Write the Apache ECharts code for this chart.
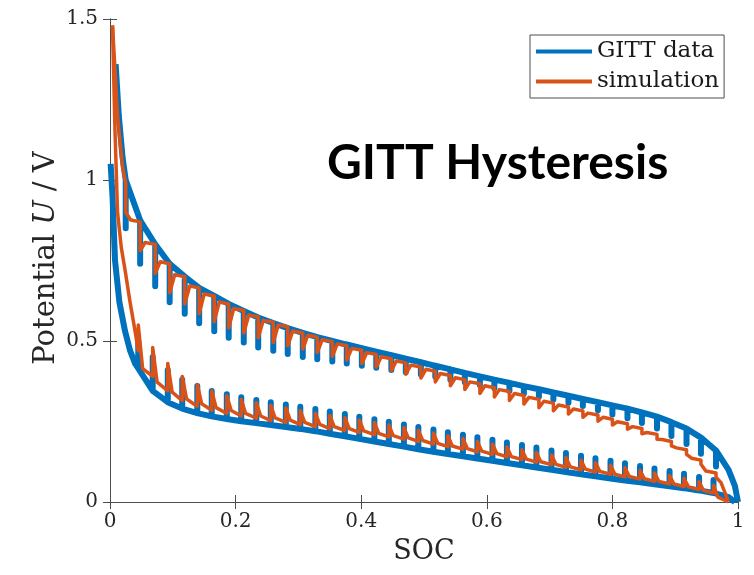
<!DOCTYPE html>
<html>
<head>
    <meta charset="utf-8">
    <title>GITT Hysteresis</title>
    <script src="https://cdn.jsdelivr.net/npm/echarts@6/dist/echarts.min.js"></script>
</head>
<body style="margin:0">
    <div id="main" style="width: 754px;height:575px;"></div>
    <script type="text/javascript">
        // pulse positions (SOC) of the two branches
        var socUp = [0.025, 0.048, 0.072, 0.095, 0.119, 0.142, 0.166, 0.189, 0.213, 0.236,
            0.26, 0.283, 0.307, 0.33, 0.354, 0.377, 0.401, 0.424, 0.448, 0.471,
            0.495, 0.518, 0.542, 0.565, 0.589, 0.612, 0.636, 0.659, 0.683, 0.706,
            0.73, 0.753, 0.777, 0.8, 0.824, 0.847, 0.871, 0.894, 0.918, 0.941, 0.965];
        var socDown = [0.045, 0.068, 0.092, 0.115, 0.139, 0.162, 0.186, 0.209, 0.233, 0.256,
            0.28, 0.303, 0.327, 0.35, 0.374, 0.397, 0.421, 0.444, 0.468, 0.491,
            0.515, 0.538, 0.562, 0.585, 0.609, 0.632, 0.656, 0.679, 0.703, 0.726,
            0.75, 0.773, 0.797, 0.82, 0.844, 0.867, 0.891, 0.914, 0.938, 0.961];

        // GITT data, upper branch: relaxed potential and pulse dip
        var gittUpHead = [[0.009, 1.36], [0.014, 1.2], [0.02, 1.07]];
        var gittUpTop = [1.0, 0.875, 0.8, 0.74, 0.7, 0.665, 0.64, 0.615, 0.593, 0.573,
            0.556, 0.54, 0.525, 0.512, 0.5, 0.489, 0.478, 0.467, 0.456, 0.445,
            0.434, 0.423, 0.412, 0.401, 0.39, 0.38, 0.37, 0.36, 0.35, 0.34,
            0.33, 0.32, 0.31, 0.3, 0.29, 0.278, 0.265, 0.248, 0.228, 0.2, 0.16];
        var gittUpLow = [0.85, 0.74, 0.67, 0.62, 0.585, 0.555, 0.53, 0.51, 0.495, 0.48,
            0.47, 0.46, 0.45, 0.443, 0.436, 0.43, 0.423, 0.417, 0.41, 0.403,
            0.396, 0.389, 0.38, 0.372, 0.363, 0.353, 0.345, 0.336, 0.327, 0.318,
            0.308, 0.298, 0.285, 0.272, 0.26, 0.245, 0.228, 0.205, 0.18, 0.15, 0.11];
        var gittUpTail = [[0.985, 0.1], [0.995, 0.05], [1.0, 0.0]];

        // GITT data, lower branch: relaxed potential and pulse peak
        var gittDownHead = [[0.001, 1.05], [0.004, 0.95], [0.008, 0.75], [0.015, 0.62],
            [0.024, 0.53], [0.032, 0.47], [0.04, 0.43]];
        var gittDownBase = [0.415, 0.345, 0.31, 0.29, 0.276, 0.266, 0.258, 0.251, 0.245, 0.239,
            0.233, 0.227, 0.22, 0.212, 0.204, 0.196, 0.188, 0.18, 0.172, 0.164,
            0.156, 0.149, 0.142, 0.135, 0.128, 0.121, 0.114, 0.107, 0.1, 0.093,
            0.086, 0.08, 0.073, 0.067, 0.061, 0.055, 0.049, 0.043, 0.036, 0.028];
        var gittDownPeak = [0.5, 0.45, 0.41, 0.38, 0.36, 0.345, 0.335, 0.325, 0.317, 0.31,
            0.303, 0.296, 0.289, 0.281, 0.273, 0.265, 0.257, 0.249, 0.241, 0.233,
            0.225, 0.217, 0.209, 0.201, 0.193, 0.185, 0.177, 0.169, 0.16, 0.152,
            0.144, 0.136, 0.128, 0.12, 0.112, 0.104, 0.096, 0.088, 0.078, 0.068];
        var gittDownTail = [[0.985, 0.015], [0.995, 0.0]];

        // simulation, upper branch: value before the pulse, after it, and the relaxed knee
        var simUpHead = [[0.004, 1.48], [0.012, 1.2], [0.02, 1.04]];
        var simUpTop = [0.99, 0.87, 0.8, 0.74, 0.7, 0.665, 0.64, 0.615, 0.595, 0.575,
            0.558, 0.544, 0.525, 0.512, 0.498, 0.485, 0.471, 0.458, 0.445, 0.432,
            0.419, 0.406, 0.393, 0.38, 0.367, 0.355, 0.343, 0.331, 0.319, 0.307,
            0.295, 0.283, 0.27, 0.257, 0.243, 0.228, 0.21, 0.188, 0.162, 0.13, 0.09];
        var simUpLow = [0.9, 0.78, 0.71, 0.65, 0.615, 0.585, 0.56, 0.54, 0.525, 0.51,
            0.495, 0.485, 0.475, 0.464, 0.452, 0.441, 0.43, 0.419, 0.408, 0.397,
            0.385, 0.373, 0.361, 0.349, 0.337, 0.326, 0.315, 0.304, 0.293, 0.283,
            0.273, 0.263, 0.251, 0.239, 0.226, 0.212, 0.195, 0.174, 0.148, 0.117, 0.077];
        var simUpKneeSoc = [0.033, 0.056, 0.08, 0.103, 0.127, 0.15, 0.174, 0.197, 0.221, 0.244,
            0.268, 0.291, 0.315, 0.338, 0.362, 0.385, 0.409, 0.432, 0.456, 0.479,
            0.503, 0.526, 0.55, 0.573, 0.597, 0.62, 0.644, 0.667, 0.691, 0.714,
            0.738, 0.761, 0.785, 0.808, 0.832, 0.855, 0.879, 0.902, 0.926, 0.949, 0.973];
        var simUpKnee = [0.876, 0.806, 0.746, 0.706, 0.671, 0.646, 0.621, 0.601, 0.581, 0.564,
            0.55, 0.531, 0.518, 0.504, 0.491, 0.477, 0.464, 0.451, 0.438, 0.425,
            0.412, 0.399, 0.386, 0.373, 0.361, 0.349, 0.337, 0.325, 0.313, 0.301,
            0.289, 0.276, 0.263, 0.249, 0.234, 0.216, 0.194, 0.168, 0.136, 0.096, 0.06];
        var simUpTail = [[0.984, 0.005]];

        // simulation, lower branch
        var simDownHead = [[0.004, 1.48], [0.008, 1.15], [0.012, 0.9], [0.018, 0.79],
            [0.024, 0.72], [0.032, 0.62], [0.04, 0.53]];
        var simDownBase = [0.47, 0.39, 0.345, 0.315, 0.297, 0.285, 0.275, 0.267, 0.26, 0.253,
            0.247, 0.24, 0.234, 0.228, 0.222, 0.216, 0.209, 0.202, 0.195, 0.188,
            0.18, 0.172, 0.164, 0.156, 0.148, 0.14, 0.132, 0.124, 0.116, 0.108,
            0.1, 0.093, 0.086, 0.078, 0.071, 0.064, 0.056, 0.048, 0.039, 0.028];
        var simDownPeak = [0.55, 0.48, 0.43, 0.39, 0.365, 0.345, 0.33, 0.318, 0.308, 0.3,
            0.292, 0.284, 0.276, 0.269, 0.262, 0.255, 0.247, 0.239, 0.231, 0.223,
            0.214, 0.206, 0.197, 0.188, 0.18, 0.171, 0.162, 0.154, 0.146, 0.138,
            0.13, 0.122, 0.114, 0.106, 0.098, 0.09, 0.082, 0.074, 0.064, 0.052];
        var simDownKneeSoc = [0.052, 0.075, 0.099, 0.122, 0.146, 0.169, 0.193, 0.216, 0.24, 0.263,
            0.287, 0.31, 0.334, 0.357, 0.381, 0.404, 0.428, 0.451, 0.475, 0.498,
            0.522, 0.545, 0.569, 0.592, 0.616, 0.639, 0.663, 0.686, 0.71, 0.733,
            0.757, 0.78, 0.804, 0.827, 0.851, 0.874, 0.898, 0.921, 0.945, 0.968];
        var simDownKnee = [0.414, 0.372, 0.341, 0.32, 0.305, 0.293, 0.284, 0.275, 0.267, 0.261,
            0.254, 0.247, 0.241, 0.234, 0.228, 0.221, 0.213, 0.206, 0.199, 0.191,
            0.182, 0.174, 0.166, 0.158, 0.15, 0.141, 0.133, 0.125, 0.117, 0.109,
            0.102, 0.095, 0.086, 0.079, 0.072, 0.064, 0.056, 0.047, 0.036, 0.015];
        var simDownTail = [[0.985, 0.0]];

        var blue = '#0072BD';
        var orange = '#D95319';
        var axisColor = '#4d4d4d';
        var textColor = '#262626';
        var serif = 'DejaVu Serif';

        // measured data: narrow vertical bars out of the relaxed curve
        function bars(head, soc, rest, pulse, tail) {
            var pts = head.slice();
            for (var i = 0; i < soc.length; i++) {
                pts.push([soc[i], rest[i]], [soc[i], pulse[i]], [soc[i], rest[i]]);
            }
            return pts.concat(tail);
        }
        // simulation: jump at the pulse, then relaxation through the knee
        function jumps(head, soc, a, b, kneeSoc, knee, tail) {
            var pts = head.slice();
            for (var i = 0; i < soc.length; i++) {
                pts.push([soc[i], a[i]], [soc[i], b[i]], [kneeSoc[i], knee[i]]);
            }
            return pts.concat(tail);
        }

        var myChart = echarts.init(document.getElementById('main'));

        function lineSeries(name, color, width, data) {
            return {
                name: name,
                type: 'line',
                color: color,
                showSymbol: false,
                symbol: 'none',
                lineStyle: {color: color, width: width, join: 'round'},
                data: data,
                animation: false
            };
        }

        var frameAxis = {
            min: 0,
            axisLine: {show: true, lineStyle: {color: axisColor, width: 1}},
            axisTick: {show: true, inside: true, length: 7, lineStyle: {color: axisColor}},
            splitLine: {show: false}
        };

        var option = {
            animation: false,
            grid: {left: 110, right: 16, top: 19, bottom: 73},
            title: {
                text: 'GITT Hysteresis',
                left: 327,
                top: 140,
                padding: 0,
                textStyle: {fontFamily: 'Lato', fontWeight: 'bold', fontSize: 48, color: '#000'}
            },
            legend: {
                orient: 'vertical',
                left: 530,
                top: 35,
                padding: [5, 5, 5, 6],
                itemGap: 7,
                itemWidth: 56,
                itemHeight: 4,
                itemTextGap: 6,
                icon: 'rect',
                borderColor: axisColor,
                borderWidth: 1,
                textStyle: {fontFamily: serif, fontSize: 23, color: '#1a1a1a'},
                data: ['GITT data', 'simulation']
            },
            xAxis: [
                Object.assign({}, frameAxis, {
                    type: 'value', max: 1, interval: 0.2,
                    name: 'SOC', nameLocation: 'middle', nameGap: 36,
                    nameTextStyle: {fontFamily: serif, fontSize: 27, color: textColor},
                    axisLabel: {fontFamily: serif, fontSize: 20, color: textColor, margin: 10}
                }),
                Object.assign({}, frameAxis, {
                    type: 'value', max: 1, interval: 0.2, position: 'top',
                    axisLabel: {show: false}
                })
            ],
            yAxis: [
                Object.assign({}, frameAxis, {
                    type: 'value', max: 1.5, interval: 0.5,
                    axisLabel: {fontFamily: serif, fontSize: 20, color: textColor, margin: 12}
                }),
                Object.assign({}, frameAxis, {
                    type: 'value', max: 1.5, interval: 0.5, position: 'right',
                    axisLabel: {show: false}
                })
            ],
            graphic: [{
                type: 'text',
                x: 46,
                y: 258,
                rotation: Math.PI / 2,
                style: {
                    text: 'Potential {i|U} / V',
                    fontFamily: serif,
                    fontSize: 29,
                    fill: textColor,
                    align: 'center',
                    verticalAlign: 'middle',
                    rich: {i: {fontFamily: serif, fontStyle: 'italic', fontSize: 29, fill: textColor}}
                }
            }],
            series: [
                lineSeries('GITT data', blue, 6, bars(gittUpHead, socUp, gittUpTop, gittUpLow, gittUpTail)),
                lineSeries('GITT data', blue, 6, bars(gittDownHead, socDown, gittDownBase, gittDownPeak, gittDownTail)),
                lineSeries('simulation', orange, 3.5, jumps(simUpHead, socUp, simUpTop, simUpLow, simUpKneeSoc, simUpKnee, simUpTail)),
                lineSeries('simulation', orange, 3.5, jumps(simDownHead, socDown, simDownBase, simDownPeak, simDownKneeSoc, simDownKnee, simDownTail))
            ]
        };

        myChart.setOption(option);
    </script>
</body>
</html>
